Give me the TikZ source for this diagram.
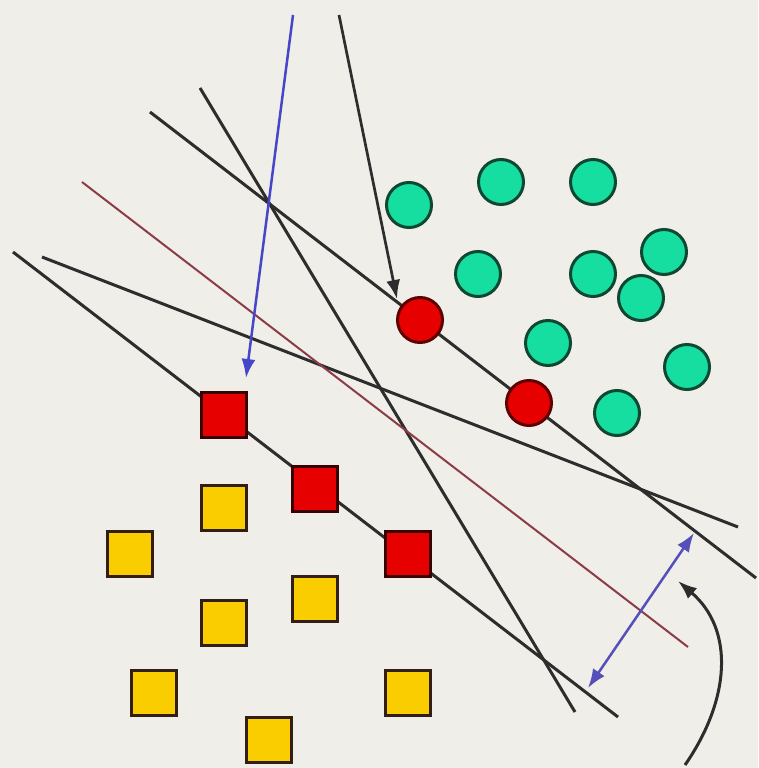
\documentclass[tikz,border=0pt]{standalone}
\usetikzlibrary{arrows.meta}
\definecolor{bg}{RGB}{240,238,232}
\definecolor{teal1}{RGB}{22,222,160}
\definecolor{tealdark}{RGB}{15,72,50}
\definecolor{red1}{RGB}{230,0,0}
\definecolor{reddark}{RGB}{95,0,0}
\definecolor{yel1}{RGB}{250,205,0}
\definecolor{yeldark}{RGB}{50,30,20}
\definecolor{lin}{RGB}{45,45,45}
\definecolor{redline}{RGB}{140,60,70}
\definecolor{blue1}{RGB}{70,70,200}
\definecolor{blue2}{RGB}{85,80,185}
\tikzset{
  gcirc/.style={circle,draw=tealdark,fill=teal1,line width=3pt,minimum size=45pt,inner sep=0pt},
  rcirc/.style={circle,draw=reddark,fill=red1,line width=3pt,minimum size=45pt,inner sep=0pt},
  ysq/.style={rectangle,draw=yeldark,fill=yel1,line width=3pt,minimum size=45pt,inner sep=0pt},
  rsq/.style={rectangle,draw=reddark!60!black,fill=red1,line width=3pt,minimum size=45pt,inner sep=0pt},
  hyper/.style={draw=lin,line width=3pt},
  best/.style={draw=redline,line width=2pt},
  tip/.style={-{Latex[length=19pt,width=14pt]}},
  dtip/.style={{Latex[length=19pt,width=14pt]}-{Latex[length=19pt,width=14pt]}}
}
\begin{document}
\begin{tikzpicture}[x=1pt,y=-1pt]
\fill[bg] (0,0) rectangle (758,768);
\useasboundingbox (0,0) rectangle (758,768);
% line end points
\coordinate (l1a) at (13,252);  \coordinate (l1b) at (618,717);
\coordinate (l2a) at (42,257);  \coordinate (l2b) at (738,527);
\coordinate (l3a) at (150,112); \coordinate (l3b) at (756,578);
\coordinate (l4a) at (200,88);  \coordinate (l4b) at (575,712);
\coordinate (rla) at (82,182);  \coordinate (rlb) at (688,647);
\coordinate (ba) at (293,15);   \coordinate (bb) at (246,378);
\coordinate (ka) at (339,15);   \coordinate (kb) at (397,299);
\coordinate (da) at (588,688);  \coordinate (db) at (694,533);
\coordinate (ca) at (685,765);  \coordinate (cb) at (678,581);
% lines
\draw[hyper] (l1a) -- (l1b);
\draw[hyper] (l2a) -- (l2b);
\draw[hyper] (l3a) -- (l3b);
\draw[hyper] (l4a) -- (l4b);
\draw[best] (rla) -- (rlb);
% arrows
\draw[blue1,line width=2.5pt,tip] (ba) -- (bb);
\draw[lin,line width=2.7pt,tip] (ka) -- (kb);
\draw[blue2,line width=2.5pt,dtip] (da) -- (db);
\draw[lin,line width=3pt,tip] (ca) .. controls (730,700) and (735,630) .. (cb);
% circles
\node[gcirc] (c1) at (409,205) {};
\node[gcirc] (c2) at (501,182) {};
\node[gcirc] (c3) at (593,182) {};
\node[gcirc] (c4) at (664,252) {};
\node[gcirc] (c5) at (478,274) {};
\node[gcirc] (c6) at (593,274) {};
\node[gcirc] (c7) at (641,298) {};
\node[gcirc] (c8) at (548,343) {};
\node[gcirc] (c9) at (687,367) {};
\node[gcirc] (c10) at (617,413) {};
\node[rcirc] (r1) at (420,320) {};
\node[rcirc] (r2) at (529,403) {};
% squares
\node[rsq] (q1) at (224,415) {};
\node[rsq] (q2) at (315,489) {};
\node[rsq] (q3) at (408,554) {};
\node[ysq] (y1) at (224,508) {};
\node[ysq] (y2) at (130,554) {};
\node[ysq] (y3) at (224,623) {};
\node[ysq] (y4) at (315,599) {};
\node[ysq] (y5) at (154,693) {};
\node[ysq] (y6) at (269,740) {};
\node[ysq] (y7) at (408,693) {};
\end{tikzpicture}
\end{document}
